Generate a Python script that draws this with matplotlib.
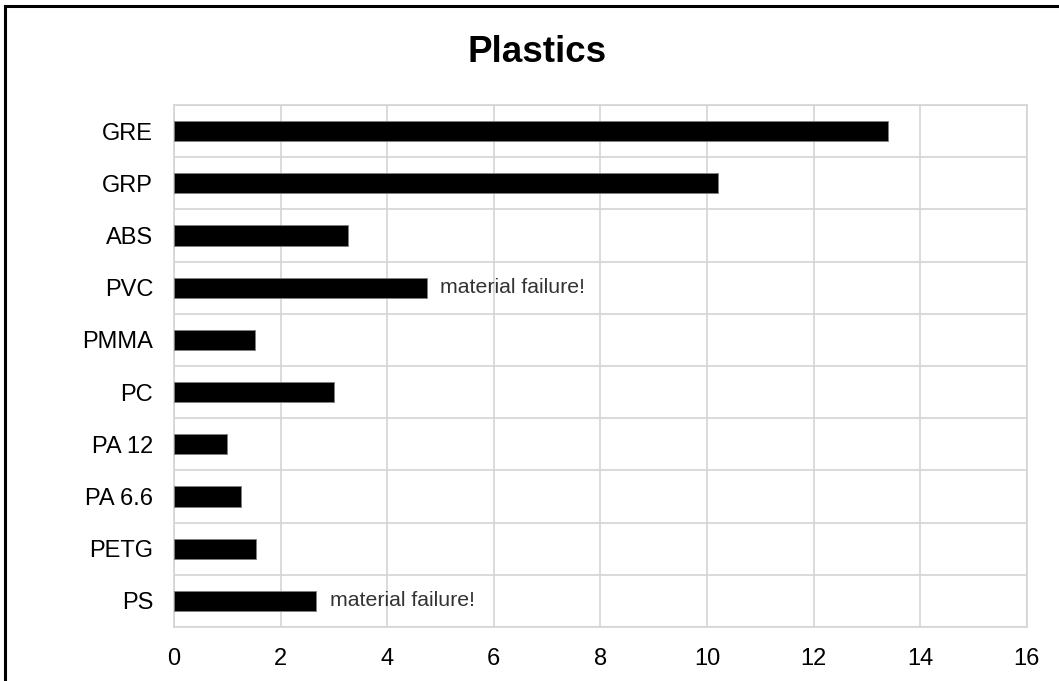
import numpy as np
import matplotlib.pyplot as plt
from matplotlib.patches import Rectangle

plt.rcParams['font.family'] = ['Liberation Sans', 'DejaVu Sans']

# материалы (снизу вверх) и значения
materials = ['PS', 'PETG', 'PA 6.6', 'PA 12', 'PC', 'PMMA', 'PVC', 'ABS', 'GRP', 'GRE']
values = [2.67, 1.54, 1.26, 0.99, 3.01, 1.52, 4.74, 3.27, 10.2, 13.39]
notes = {'PS': 'material failure!', 'PVC': 'material failure!'}
xticks = [0, 2, 4, 6, 8, 10, 12, 14, 16]

fig = plt.figure(figsize=(10.59, 6.81), dpi=100)
ax = fig.add_axes([0.1643, 0.0793, 0.8052, 0.7665])

y = np.arange(len(materials))
ax.barh(y, values, height=0.39, color='black', edgecolor='#808080', linewidth=0.6, zorder=3)

for i, m in enumerate(materials):
    if m in notes:
        ax.text(values[i] + 0.25, y[i], notes[m], va='center', ha='left',
                fontsize=15.3, color='#333333', zorder=4)

ax.set_xlim(0, 16)
ax.set_ylim(-0.5, len(materials) - 0.5)
ax.set_xticks(xticks)
ax.set_yticks(y)
ax.set_yticklabels(materials)

# сетка по границам категорий
ax.set_yticks(np.arange(-0.5, len(materials)), minor=True)
ax.grid(axis='x', which='major', color='#d4d4d4', linewidth=1.2, zorder=0)
ax.grid(axis='y', which='minor', color='#d4d4d4', linewidth=1.2, zorder=0)
ax.grid(axis='y', which='major', visible=False)
ax.tick_params(which='both', length=0)
ax.tick_params(axis='y', labelsize=17, pad=15)
ax.tick_params(axis='x', labelsize=17, pad=15)
for s in ax.spines.values():
    s.set_color('#d4d4d4')
    s.set_linewidth(1.2)

fig.text(0.507, 1 - 53 / 681, 'Plastics', ha='center', va='center',
         fontsize=26.5, fontweight='bold')

# рамка вокруг рисунка
fig.patches.append(Rectangle((5 / 1059, -0.1), 1.2, 1 - 6 / 681 + 0.1,
                             transform=fig.transFigure, fill=False,
                             edgecolor='black', linewidth=2.2))

fig.savefig('out.png', dpi=100)
